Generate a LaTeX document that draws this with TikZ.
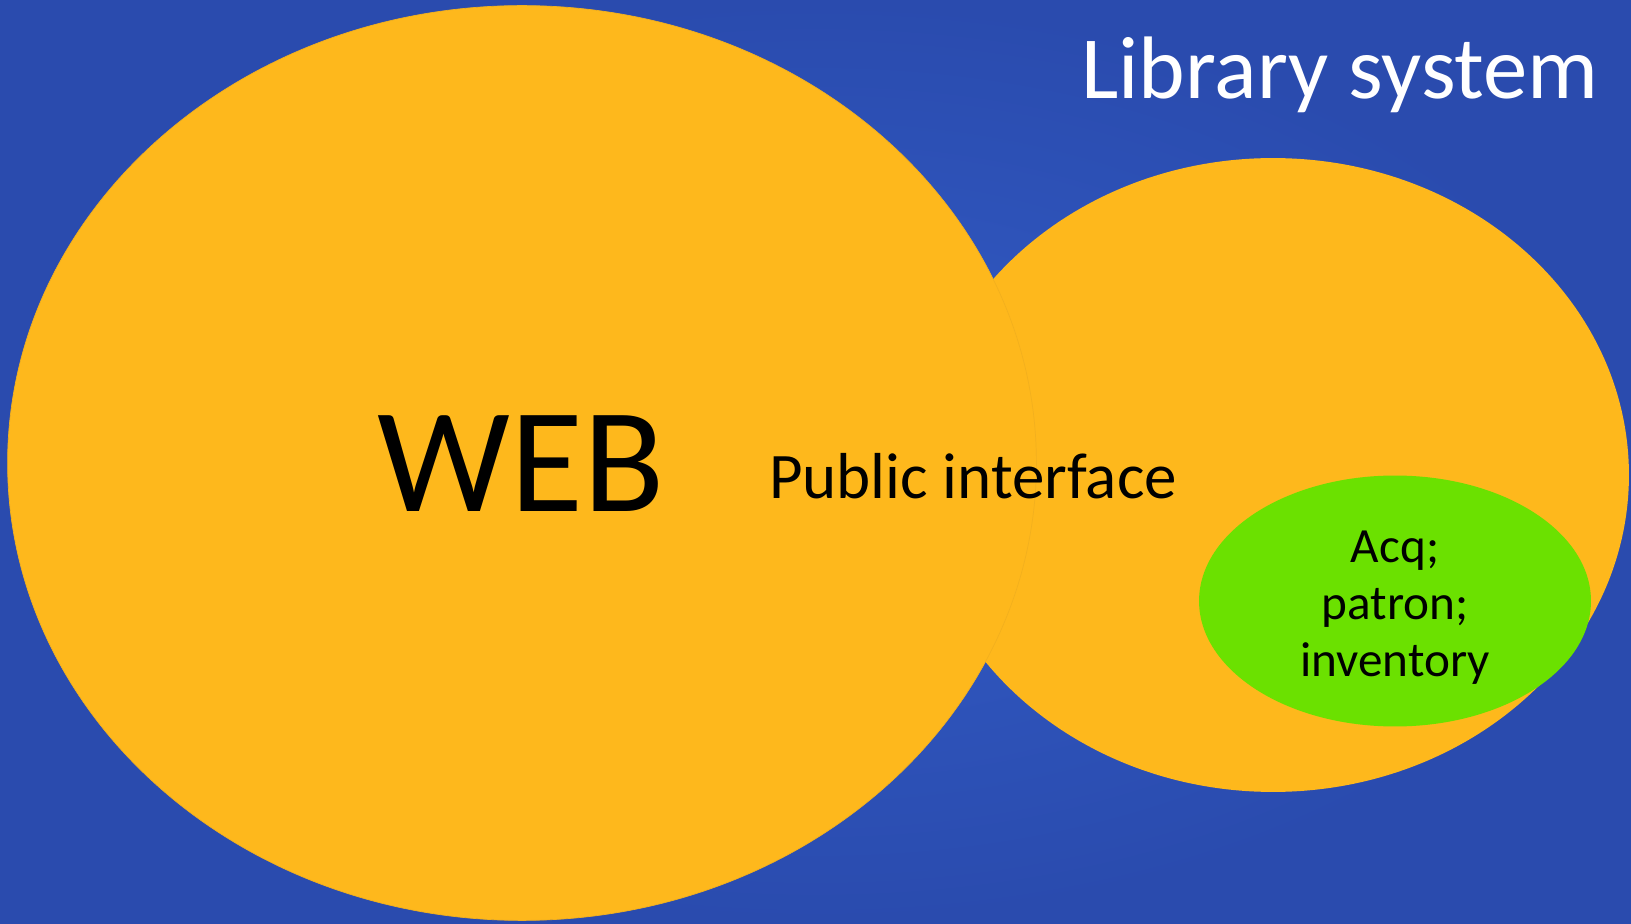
\documentclass[tikz,border=0pt]{standalone}
\usepackage{fontspec}
\setmainfont{Carlito}
\usetikzlibrary{shapes.geometric}
\definecolor{bgblue}{HTML}{2A4BAE}
\definecolor{bglight}{HTML}{325CC6}
\definecolor{sysorange}{HTML}{FEB81C}
\definecolor{edgeorange}{HTML}{F2B01E}
\definecolor{modgreen}{HTML}{6BE100}
\begin{document}
\begin{tikzpicture}[x=0.02cm,y=0.02cm,
  blob/.style={ellipse,inner sep=0pt,fill=sysorange},
  label/.style={inner sep=0pt,text=black}]
  % background, 1631 x 923
  \shade[inner color=bglight,outer color=bgblue] (0,0) rectangle (1631,923);
  \useasboundingbox (0,0) rectangle (1631,923);
  \node[blob,minimum width=14.24cm,minimum height=12.68cm] (lib) at (1273,448) {};
  \node[blob,draw=edgeorange,line width=0.4pt,minimum width=20.58cm,minimum height=18.3cm] (web) at (522,460) {};
  \node[ellipse,inner sep=0pt,fill=modgreen,minimum width=7.84cm,minimum height=5.02cm] (core) at (1395,322) {};
  % texts
  \node[label,text=white,font=\fontsize{50.5}{58}\selectfont,anchor=base east] (title) at (1599,824) {Library system};
  \node[label,font=\fontsize{85}{92}\selectfont,anchor=base] (webtext) at (521,411) {WEB};
  \node[label,font=\fontsize{37}{44}\selectfont,anchor=base] (public) at (973,424) {Public interface};
  \node[label,font=\fontsize{28}{32.4}\selectfont,align=center] (coretext) at (1395,315) {Acq;\\patron;\\inventory};
\end{tikzpicture}
\end{document}
